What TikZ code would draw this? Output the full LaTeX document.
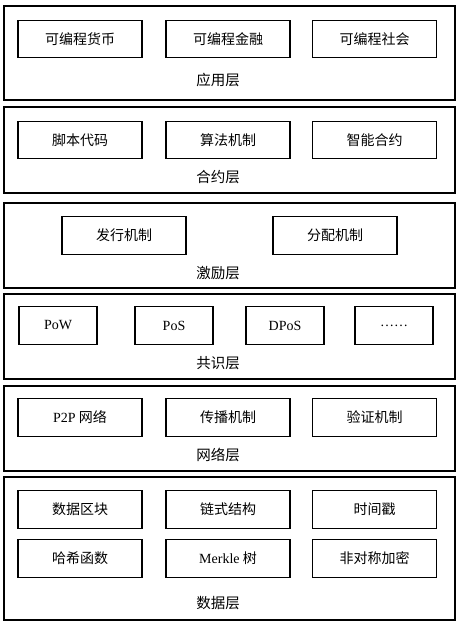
\documentclass[tikz,border=0pt]{standalone}
\usepackage{fontspec}
\setmainfont{Liberation Serif}
\newfontfamily\cjk{Noto Sans CJK SC}
\begin{document}
\begin{tikzpicture}[x=1pt,y=-1pt,
  layer/.style={draw, line width=1.5pt, minimum width=451pt, inner sep=0pt},
  item/.style={draw, line width=1.2pt, minimum width=124pt, minimum height=37.5pt, inner sep=0pt, font=\fontsize{14}{16}\selectfont\cjk},
  smallitem/.style={item, minimum width=78pt, font=\fontsize{14}{16}\selectfont},
  lbl/.style={font=\fontsize{14.5}{16}\selectfont\cjk, inner sep=0pt}]
\useasboundingbox (0,0) rectangle (459,628);
% layers
\node[layer, minimum height=94pt] (L1) at (229.5,53) {};
\node[layer, minimum height=86pt] (L2) at (229.5,150) {};
\node[layer, minimum height=85pt] (L3) at (229.5,245.5) {};
\node[layer, minimum height=85pt] (L4) at (229.5,336.5) {};
\node[layer, minimum height=85pt] (L5) at (229.5,428.5) {};
\node[layer, minimum height=143pt] (L6) at (229.5,548.5) {};
% application layer
\node[item] (a1) at (80,39) {可编程货币};
\node[item] (a2) at (228,39) {可编程金融};
\node[item] (a3) at (374.5,39) {可编程社会};
\node[lbl] (la) at (218,80) {应用层};
% contract layer
\node[item] (c1) at (80,140) {脚本代码};
\node[item] (c2) at (228,140) {算法机制};
\node[item] (c3) at (374.5,140) {智能合约};
\node[lbl] (lc) at (218,177) {合约层};
% incentive layer
\node[item] (i1) at (124,235.5) {发行机制};
\node[item] (i2) at (335,235.5) {分配机制};
\node[lbl] (li) at (218,273) {激励层};
% consensus layer
\node[smallitem] (s1) at (58,325.5) {PoW};
\node[smallitem] (s2) at (174,325.5) {PoS};
\node[smallitem] (s3) at (285,325.5) {DPoS};
\node[smallitem] (s4) at (394,325.5) {……};
\node[lbl] (ls) at (218,363) {共识层};
% network layer
\node[item] (n1) at (80,417.5) {{\rmfamily P2P} 网络};
\node[item] (n2) at (228,417.5) {传播机制};
\node[item] (n3) at (374.5,417.5) {验证机制};
\node[lbl] (ln) at (218,455) {网络层};
% data layer
\node[item] (d1) at (80,509.5) {数据区块};
\node[item] (d2) at (228,509.5) {链式结构};
\node[item] (d3) at (374.5,509.5) {时间戳};
\node[item] (d4) at (80,558.5) {哈希函数};
\node[item] (d5) at (228,558.5) {{\rmfamily Merkle} 树};
\node[item] (d6) at (374.5,558.5) {非对称加密};
\node[lbl] (ld) at (218,603) {数据层};
\end{tikzpicture}
\end{document}
